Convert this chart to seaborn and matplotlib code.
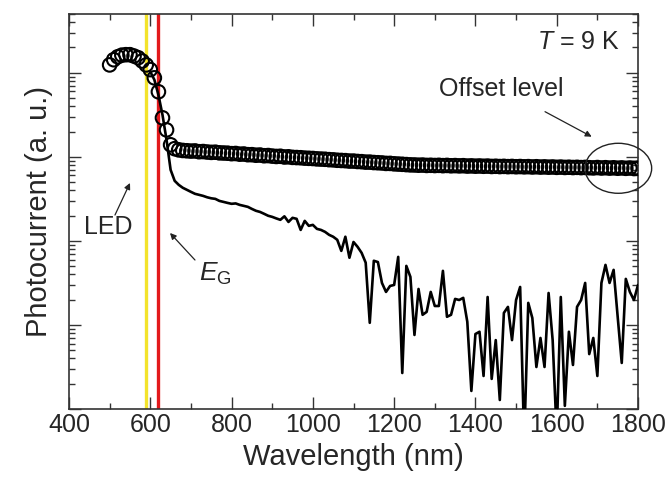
import numpy as np
import pandas as pd
import matplotlib
matplotlib.use("Agg")
import matplotlib.pyplot as plt
from matplotlib.patches import Ellipse
from matplotlib.ticker import LogLocator, NullFormatter, MultipleLocator
import seaborn as sns

# ---------------- data ----------------
circle_wl = [500, 510, 520, 530, 540, 550, 560, 570, 580, 590,
             600, 610, 620, 630, 640, 650, 660, 670, 680, 690,
             700, 710, 720, 730, 740, 750, 760, 770, 780, 790,
             800, 810, 820, 830, 840, 850, 860, 870, 880, 890,
             900, 910, 920, 930, 940, 950, 960, 970, 980, 990,
             1000, 1010, 1020, 1030, 1040, 1050, 1060, 1070, 1080, 1090,
             1100, 1110, 1120, 1130, 1140, 1150, 1160, 1170, 1180, 1190,
             1200, 1210, 1220, 1230, 1240, 1250, 1260, 1270, 1280, 1290,
             1300, 1310, 1320, 1330, 1340, 1350, 1360, 1370, 1380, 1390,
             1400, 1410, 1420, 1430, 1440, 1450, 1460, 1470, 1480, 1490,
             1500, 1510, 1520, 1530, 1540, 1550, 1560, 1570, 1580, 1590,
             1600, 1610, 1620, 1630, 1640, 1650, 1660, 1670, 1680, 1690,
             1700, 1710, 1720, 1730, 1740, 1750, 1760, 1770, 1780, 1790,
             1800]
circle_pc = [12400, 14300, 15500, 16200, 16400, 16400, 15800, 15100, 13800, 12400,
             10900, 8700, 5940, 2910, 2090, 1390, 1250, 1210, 1190, 1180,
             1170, 1175, 1150, 1155, 1140, 1130, 1135, 1115, 1110, 1105,
             1090, 1095, 1075, 1080, 1060, 1060, 1045, 1050, 1030, 1035,
             1020, 1010, 1015, 995, 1000, 985, 980, 975, 965, 960,
             955, 945, 940, 935, 925, 920, 910, 905, 900, 890,
             890, 880, 875, 865, 865, 855, 850, 845, 835, 835,
             825, 820, 815, 808, 802, 800, 795, 798, 790, 793,
             788, 792, 785, 790, 782, 786, 780, 784, 776, 780,
             774, 778, 772, 776, 768, 772, 766, 770, 764, 768,
             762, 766, 760, 764, 757, 762, 755, 759, 753, 757,
             750, 755, 748, 752, 746, 750, 744, 748, 742, 738,
             745, 736, 742, 734, 740, 732, 738, 730, 736, 728,
             734]

line_wl = circle_wl[10:]
line_pc = [10300, 8260, 5470, 3160, 1590, 700, 518, 464, 428, 405,
           383, 363, 353, 343, 330, 321, 316, 299, 291, 283,
           276, 279, 268, 261, 254, 240, 228, 221, 210, 199,
           193, 185, 178, 196, 168, 188, 183, 135, 173, 151,
           155, 139, 135, 128, 118, 112, 103, 76, 112, 63,
           97, 85, 72, 55, 10.6, 58, 56, 31.6, 24.7, 29.1,
           29.9, 64.5, 2.68, 50.4, 37.3, 7.6, 26.8, 13.2, 14.3, 24.7,
           16.8, 16.8, 44, 12.5, 13.2, 20.4, 19.8, 21, 10.9, 1.64,
           7.8, 8.3, 2.47, 21.5, 2.28, 6.6, 1.28, 13.9, 16.4, 6.6,
           19.8, 28.3, 0.4, 18.3, 12.1, 3.16, 7.0, 3.16, 24, 6.6,
           0.5, 21.5, 1.09, 8.3, 3.34, 16.4, 19.8, 31.6, 4.5, 7.0,
           2.47, 31.6, 51.8, 31.6, 45.2, 12.5, 3.53, 35.3, 24.7, 19.8,
           29.9]

led_wl = 590
eg_wl = 618
x_ticks = [400, 600, 800, 1000, 1200, 1400, 1600, 1800]

df_c = pd.DataFrame({"wl": circle_wl, "pc": circle_pc})
df_l = pd.DataFrame({"wl": line_wl, "pc": line_pc})

# ---------------- style ----------------
sns.set_style("ticks")
plt.rcParams["font.family"] = ["Liberation Sans", "DejaVu Sans"]
plt.rcParams["mathtext.fontset"] = "custom"
plt.rcParams["mathtext.rm"] = "Liberation Sans"
plt.rcParams["mathtext.it"] = "Liberation Sans:italic"
plt.rcParams["mathtext.sf"] = "Liberation Sans"

fig = plt.figure(figsize=(6.68, 4.87), dpi=100)
ax = fig.add_axes([69 / 668, 1 - 409 / 487, 569 / 668, 395 / 487])

ax.axvline(led_wl, color="#f3e32c", lw=2.4, zorder=1)
ax.axvline(eg_wl, color="#e3191c", lw=2.4, zorder=1)

sns.lineplot(data=df_l, x="wl", y="pc", ax=ax, color="black", lw=1.9,
             estimator=None, zorder=3)
sns.scatterplot(data=df_c, x="wl", y="pc", ax=ax, marker="o", s=95,
                facecolor="none", edgecolor="black", linewidth=1.5, zorder=4)

ax.set_yscale("log")
ax.set_xlim(400, 1800)
ax.set_ylim(1, 5.0e4)
ax.set_xticks(x_ticks)
ax.xaxis.set_minor_locator(MultipleLocator(100))
ax.yaxis.set_major_locator(LogLocator(base=10, numticks=20))
ax.yaxis.set_minor_locator(LogLocator(base=10, subs=np.arange(2, 10), numticks=20))
ax.yaxis.set_major_formatter(NullFormatter())
ax.yaxis.set_minor_formatter(NullFormatter())

ax.tick_params(which="both", direction="in", top=True, right=True,
               color="#333333", width=1.0)
ax.tick_params(which="major", length=8.5, labelsize=18, pad=3)
ax.tick_params(which="minor", length=4.5)
for sp in ax.spines.values():
    sp.set_linewidth(1.2)
    sp.set_color("#333333")

ax.set_xlabel("Wavelength (nm)", fontsize=21, labelpad=4)
ax.set_ylabel("Photocurrent (a. u.)", fontsize=21, labelpad=8)

# ---------------- annotations ----------------
arrow = dict(arrowstyle="-|>", lw=0.9, color="#222222", mutation_scale=9,
             shrinkA=0, shrinkB=0)
ax.text(0.9684, 0.929, "$T$ = 9 K", transform=ax.transAxes, ha="right",
        va="center", fontsize=18)
ax.text(0.7592, 0.8101, "Offset level", transform=ax.transAxes, ha="center",
        va="center", fontsize=18)
ax.annotate("", xy=(0.9186, 0.6894), xytext=(0.8366, 0.7527),
            xycoords="axes fraction", textcoords="axes fraction", arrowprops=arrow)
ax.add_patch(Ellipse((0.9654, 0.6094), 0.1172, 0.1266, transform=ax.transAxes,
                     fill=False, lw=1.0, ec="#222222", clip_on=False, zorder=5))

ax.text(0.0685, 0.4608, "LED", transform=ax.transAxes, ha="center",
        va="center", fontsize=18)
ax.annotate("", xy=(0.1072, 0.5722), xytext=(0.0808, 0.4911),
            xycoords="axes fraction", textcoords="axes fraction", arrowprops=arrow)

ax.text(0.2285, 0.3241, r"$E_\mathrm{G}$", transform=ax.transAxes, ha="left",
        va="baseline", fontsize=19)
ax.annotate("", xy=(0.1775, 0.4456), xytext=(0.2214, 0.3772),
            xycoords="axes fraction", textcoords="axes fraction", arrowprops=arrow)

fig.savefig("out.png", dpi=100)
